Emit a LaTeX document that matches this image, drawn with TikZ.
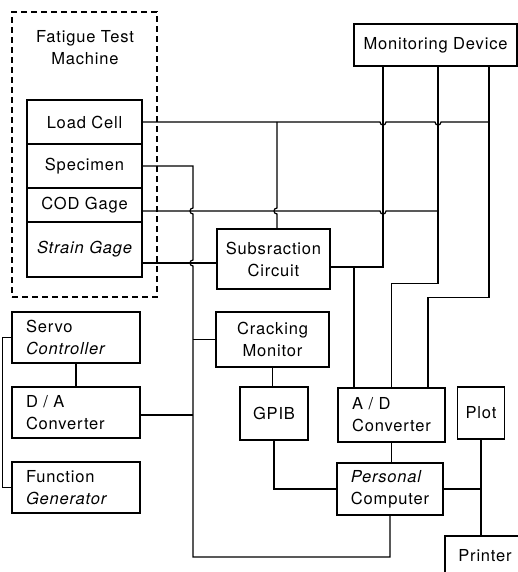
\documentclass[tikz,border=0pt]{standalone}
\usepackage{fontspec}
\setmainfont{TeX Gyre Heros}[LetterSpace=5]
\begin{document}
\begin{tikzpicture}[x=1pt,y=-1pt,line width=1.2pt,
  lbl/.style={font=\fontsize{16.5}{22}\selectfont, inner sep=0pt},
  box/.style={draw, rectangle, lbl},
  lbox/.style={box, text width=100pt, align=left}]
\useasboundingbox (0,0) rectangle (518,572);

% Fatigue test machine
\node[draw, dash pattern=on 6pt off 4pt, minimum width=145pt, minimum height=285pt] (ftm) at (84.5,154.5) {};
\node[lbl, align=center] (ftmt) at (85,48) {Fatigue Test\\Machine};
\node[box, minimum width=115pt, minimum height=44pt] (lc) at (84.5,122) {Load Cell};
\node[box, minimum width=115pt, minimum height=44pt] (sp) at (84.5,166) {Specimen};
\node[box, minimum width=115pt, minimum height=34pt] (cod) at (84.5,205) {COD Gage};
\node[box, minimum width=115pt, minimum height=55pt] (sg) at (84.5,249.5) {\itshape Strain Gage};

\node[box, minimum width=163pt, minimum height=42pt] (mon) at (435.5,45) {Monitoring Device};
\node[box, align=center, minimum width=113pt, minimum height=60pt] (sub) at (273.5,259) {Subsraction\\Circuit};
\node[box, align=center, minimum width=113pt, minimum height=55pt] (cm) at (272.5,339.5) {Cracking\\Monitor};
\node[box, minimum width=68pt, minimum height=53pt] (gpib) at (274,413.5) {GPIB};
\node[box, align=left, minimum width=107pt, minimum height=54pt] (ad) at (391.5,415) {A / D\\Converter};
\node[box, minimum width=47pt, minimum height=52pt] (plot) at (481,413) {Plot};
\node[box, align=left, minimum width=106pt, minimum height=52pt] (pc) at (390,489) {\itshape Personal\\Computer};
\node[box, minimum width=80pt, minimum height=40pt] (pr) at (485,556) {Printer};

\node[lbox, minimum width=128pt, minimum height=51pt] (sc) at (76,337.5) {Servo\\\itshape Controller};
\node[lbox, minimum width=128pt, minimum height=51pt] (da) at (76,412.5) {D / A\\Converter};
\node[lbox, minimum width=128pt, minimum height=51pt] (fg) at (76,487.5) {Function\\\itshape Generator};

% helper coordinates
\coordinate (m1) at ([xshift=-52.5pt]mon.south);
\coordinate (m2) at ([xshift=2.5pt]mon.south);
\coordinate (m3) at ([xshift=53.5pt]mon.south);
\coordinate (subR) at ([yshift=-8pt]sub.east);
\coordinate (subT) at ([xshift=3.5pt]sub.north);
\coordinate (adL) at ([xshift=-37.5pt]ad.north);
\coordinate (adR) at ([xshift=36.5pt]ad.north);
\coordinate (codR) at ([yshift=-6pt]cod.east);
\coordinate (sgR) at ([yshift=-13.5pt]sg.east);
\coordinate (daR) at ([yshift=-2.5pt]da.east);
\coordinate (bus) at (193,557);

% Load cell line with hops
\draw (lc.east) -- (380,122) .. controls (380,126) and (386,126) .. (386,122)
  -- (435,122) .. controls (435,126) and (441,126) .. (441,122) -- (m3 |- lc.east);
% COD line
\draw (codR) -- (380,211) .. controls (380,215) and (386,215) .. (386,211) -- (codR -| m2);
% Strain gage line
\draw (sgR) -- (sgR -| sub.west);
% vertical from load cell line to subtraction circuit
\draw (subT |- lc.east) -- (277,208) .. controls (273,208) and (273,214) .. (277,214) -- (subT);
% specimen bus
\draw (sp.east) -- (193,166) -- (193,208) .. controls (189,208) and (189,214) .. (193,214)
  -- (193,260) .. controls (189,260) and (189,266) .. (193,266) -- (bus) -| (pc.south);
% monitoring device lines
\draw (m1) -- (m1 |- subR) -- (subR);
\draw (adL) -- (adL |- subR);
\draw (m2) -- ++(0,217) -| (ad.north);
\draw (m3) -- ++(0,231) -| (adR);
% cracking monitor, D/A to bus
\draw (cm.west) -- (cm.west -| bus);
\draw (daR) -- (daR -| bus);
\draw (cm.south) -- (cm.south |- gpib.north);
\draw (gpib.south) |- (pc.west);
\draw (ad.south) -- (ad.south |- pc.north);
\draw (pc.east) -- (pc.east -| plot.south);
\draw (plot.south) -- (plot.south |- pr.north);
% servo group
\draw (sc.south) -- (sc.south |- da.north);
\draw (sc.west) -- ++(-9,0) |- (fg.west);
\end{tikzpicture}
\end{document}
